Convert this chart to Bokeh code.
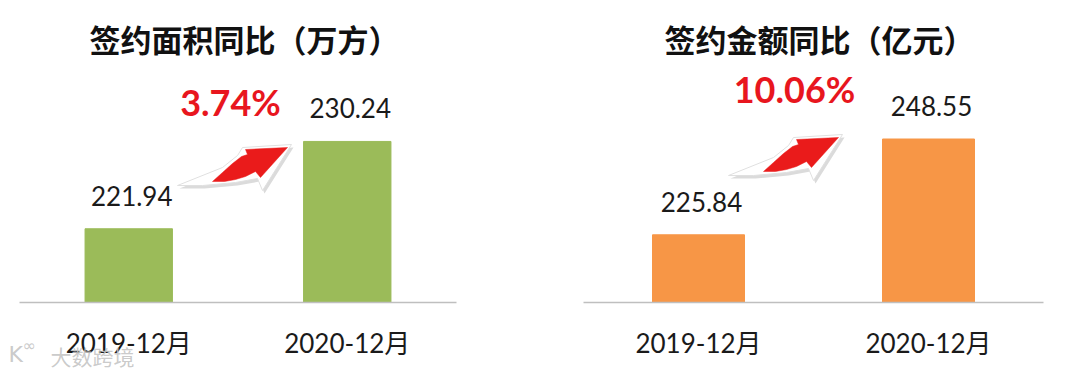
from bokeh.plotting import figure
from bokeh.models import Range1d, ColumnDataSource
from bokeh.layouts import row
from bokeh.core.properties import value
from bokeh.embed import file_html
from bokeh.resources import INLINE

# ---- data ----
categories = ["2019-12月", "2020-12月"]
area_values = [221.94, 230.24]          # 签约面积 (万方)
amount_values = [225.84, 248.55]        # 签约金额 (亿元)
growth_labels = ["3.74%", "10.06%"]
titles = ["签约面积同比（万方）", "签约金额同比（亿元）"]
bar_colors = ["#9bbb59", "#f79646"]

FIG_W, FIG_H = 540, 370
BASE_PAGE = 302   # page y of baseline
CJK = "Noto Sans CJK SC"

# arrow shape relative to tip (pixels, y down)
ARROW_RED = [(-75, 34), (-65, 25), (-55, 16), (-46, 9), (-40, 7), (-42, 2), (0, 0),
             (-27, 30), (-32, 24), (-42, 29), (-52, 32), (-63, 34)]
ARROW_WHITE = [(-110, 38), (-65, 20), (-50, 8), (-45, 0), (4, -3),
               (-25, 43), (-30, 31), (-52, 35), (-85, 38)]
ARROW_SHADOW = [(-108, 41), (-63, 23), (-48, 11), (-43, 3), (6, 0),
                (-23, 46), (-28, 34), (-50, 38), (-83, 41)]


def panel(vals, title, growth, color, y0, ppy, page_left, axis_left_page, axis_w,
          title_cx, pct_c, tip):
    def X(px):
        return (px - axis_left_page) / axis_w * 2.0

    def Y(py):
        return y0 + (BASE_PAGE - py) / ppy

    p = figure(width=FIG_W, height=FIG_H, output_backend="svg", toolbar_location=None,
               x_range=Range1d(X(page_left), X(page_left + FIG_W)),
               y_range=Range1d(Y(FIG_H), Y(0)),
               x_axis_location=None, y_axis_location=None,
               min_border_top=0, min_border_bottom=0,
               min_border_left=0, min_border_right=0)
    p.title.visible = False
    p.outline_line_color = None
    p.grid.visible = False
    p.background_fill_color = "white"
    p.border_fill_color = "white"

    xs = [0.5, 1.5]
    src = ColumnDataSource(dict(x=xs, top=vals, cat=categories,
                                lab=[f"{v:.2f}" for v in vals]))
    p.vbar(x="x", top="top", bottom=y0, width=0.4, color=color, source=src)
    # baseline (category axis line)
    p.segment(x0=[0], y0=[y0], x1=[2], y1=[y0], line_color="#bfbfbf", line_width=1.5)
    # value labels
    p.text(x="x", y="top", text="lab", source=src, text_align="center",
           text_baseline="alphabetic", y_offset=-33, x_offset=3,
           text_font=value("Lato"), text_font_size="26px", text_color="#1a1a1a")
    # category labels
    p.text(x="x", y=y0, text="cat", source=src, text_align="center",
           text_baseline="middle", y_offset=40, x_offset=0,
           text_font=value("Lato, 'Noto Sans CJK SC'"), text_font_size="26px",
           text_color="#1a1a1a")

    # title
    p.text(x=[X(title_cx)], y=[Y(38)], text=[title], text_align="center",
           text_baseline="middle", text_font=value(CJK), text_font_style="bold",
           text_font_size="31px", text_color="#111111")
    # arrow
    tx, ty = tip
    p.patch([X(tx + dx) for dx, dy in ARROW_SHADOW], [Y(ty + dy) for dx, dy in ARROW_SHADOW],
            fill_color="#b8b8b8", fill_alpha=0.5, line_color=None)
    p.patch([X(tx + dx) for dx, dy in ARROW_WHITE], [Y(ty + dy) for dx, dy in ARROW_WHITE],
            fill_color="white", line_color="#e0e0e0", line_width=1)
    p.patch([X(tx + dx) for dx, dy in ARROW_RED], [Y(ty + dy) for dx, dy in ARROW_RED],
            fill_color="#ea1b1b", line_color="#ea1b1b", line_width=0.5)
    # growth
    p.text(x=[X(pct_c[0])], y=[Y(pct_c[1])], text=[growth], text_align="center",
           text_baseline="middle", text_font=value("Lato"), text_font_style="bold",
           text_font_size="36px", text_color="#e8161e")
    return p, X, Y


p1, X1, Y1 = panel(area_values, titles[0], growth_labels[0], bar_colors[0],
                   214.93, 10.52, 0, 19, 437, 244, (230, 101), (287, 147))
p2, X2, Y2 = panel(amount_values, titles[1], growth_labels[1], bar_colors[1],
                   209.79, 4.218, 540, 583, 460, 819, (794, 88), (838, 137))

# watermark
p1.text(x=[X1(50)], y=[Y1(355)], text=["大数跨境"], text_align="left",
        text_baseline="middle", text_font=value(CJK), text_font_size="21px",
        text_color="#c4c4c4", text_alpha=0.9)
p1.text(x=[X1(8)], y=[Y1(354)], text=["K"], text_align="left",
        text_baseline="middle", text_font=value("DejaVu Sans"), text_font_size="22px",
        text_color="#c4c4c4", text_alpha=0.9)
p1.text(x=[X1(22)], y=[Y1(345)], text=["∞"], text_align="left",
        text_baseline="middle", text_font=value("DejaVu Sans"), text_font_size="16px",
        text_color="#c4c4c4", text_alpha=0.9)

layout = row(p1, p2, spacing=0)
open("out.html", "w").write(file_html(layout, INLINE))
